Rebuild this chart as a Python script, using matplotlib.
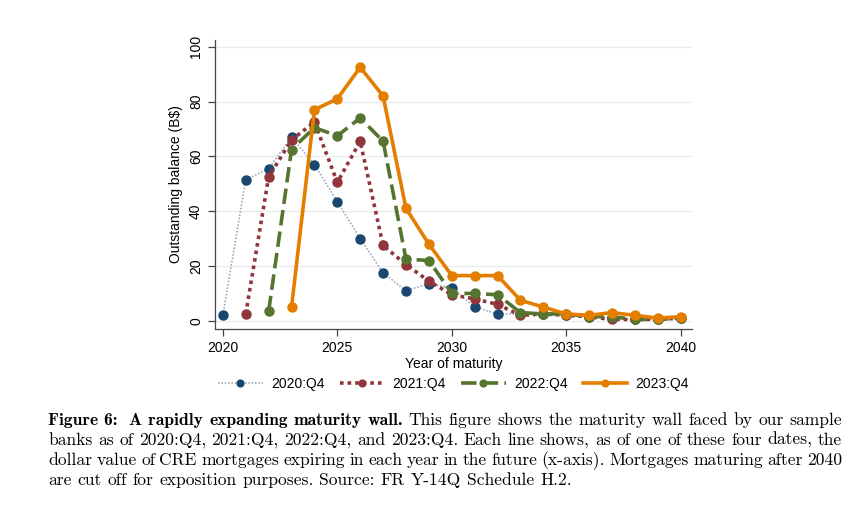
import numpy as np
import matplotlib
matplotlib.use("Agg")
import matplotlib.pyplot as plt
from matplotlib.font_manager import FontProperties

# ---------- data ---------- #
years = list(range(2020, 2041))

q4_2020 = [2, 51.5, 55.5, 67, 57, 43.5, 30, 17.5, 11, 13.5, 12, 5, 2.5,
           2.5, 2.5, 2, 1.5, 1, 0.5, 0.5, 1]
q4_2021 = [2.5, 52.5, 66, 72.5, 50.5, 65.5, 27.5, 20.5, 14.5, 9.5, 8, 6,
           2, 2.5, 2, 1.5, 0.5, 0.5, 0.5, 1]
q4_2022 = [3.5, 62.5, 70.5, 67.5, 74, 65.5, 22.5, 22, 10, 10, 9.5, 3,
           2.5, 2.5, 1.5, 1.5, 0.5, 0.5, 1]
q4_2023 = [5, 77, 81, 92.5, 82, 41, 28, 16.5, 16.5, 16.5, 7.5, 5, 2.5,
           2, 3, 2, 1, 1.5]

labels = ["2020:Q4", "2021:Q4", "2022:Q4", "2023:Q4"]
series = [q4_2020, q4_2021, q4_2022, q4_2023]

colors = ["#1a476f", "#90353b", "#55752f", "#e37e00"]

plt.rcParams['font.family'] = ['Liberation Sans', 'DejaVu Sans']

fig = plt.figure(figsize=(8.56, 5.05), dpi=100)
ax = fig.add_axes([0.251, 0.349, 0.557, 0.572])

styles = [
    dict(color="#8fa0b3", lw=1.1, ls=(0, (1, 1.2))),
    dict(color=colors[1], lw=2.6, ls=(0, (1, 1.1))),
    dict(color=colors[2], lw=2.6, ls=(0, (4.3, 1.7))),
    dict(color=colors[3], lw=2.6, ls="-"),
]

handles = []
for vals, lab, col, st in zip(series, labels, colors, styles):
    x = years[len(years) - len(vals):]
    h, = ax.plot(x, vals, marker="o", ms=6.5, mfc=col, mec=col,
                 label=lab, dash_capstyle="butt", **st)
    handles.append(h)

ax.set_xlim(2019.65, 2040.48)
ax.set_ylim(-2.9, 102.5)
ax.set_xticks([2020, 2025, 2030, 2035, 2040])
ax.set_yticks([0, 20, 40, 60, 80, 100])
ax.grid(axis="y", color="#eaeaea", lw=0.9)
ax.set_axisbelow(True)
for s in ["top", "right"]:
    ax.spines[s].set_visible(False)
for s in ["left", "bottom"]:
    ax.spines[s].set_color("#444444")
    ax.spines[s].set_linewidth(0.9)
ax.tick_params(axis="both", labelsize=10, color="#444444", length=5, width=0.9)
plt.setp(ax.get_yticklabels(), rotation=90, va="center")
ax.set_xlabel("Year of maturity", fontsize=10, labelpad=2)
ax.set_ylabel("Outstanding balance (B$)", fontsize=10, labelpad=4)

fig.legend(handles=handles, loc="center", bbox_to_anchor=(0.53, 0.24),
           ncol=4, frameon=False, fontsize=10, handlelength=3.2,
           handletextpad=0.6, columnspacing=1.1, markerscale=0.75)

# ---------- caption (justified lines) ---------- #
fs = 12.6
reg = FontProperties(family="cmr10", size=fs)
bold = FontProperties(family="cmb10", size=fs)
fig.canvas.draw()
r = fig.canvas.get_renderer()
W, H = fig.get_size_inches() * fig.dpi


def wid(s, fp):
    return r.get_text_width_height_descent(s, fp, ismath=False)[0]


lines = [
    [("Figure 6:", bold), ("A rapidly", bold), ("expanding", bold), ("maturity", bold),
     ("wall.", bold)] + [(w, reg) for w in
                         "This figure shows the maturity wall faced by our sample".split()],
    [(w, reg) for w in
     "banks as of 2020:Q4, 2021:Q4, 2022:Q4, and 2023:Q4. Each line shows, as of one of these four dates, the".split()],
    [(w, reg) for w in
     "dollar value of CRE mortgages expiring in each year in the future (x-axis). Mortgages maturing after 2040".split()],
    [(w, reg) for w in
     "are cut off for exposition purposes. Source: FR Y-14Q Schedule H.2.".split()],
]
x0, x1 = 48, 842
baselines = [425, 445, 465, 485]
for i, (ln, yb) in enumerate(zip(lines, baselines)):
    widths = [wid(w, fp) for w, fp in ln]
    extra = [0.0] * len(ln)
    if i == 0:
        extra[0] = 6.0  # wider space after "Figure 6:"
    if i < len(lines) - 1:
        gap = (x1 - x0 - sum(widths) - sum(extra)) / (len(ln) - 1)
    else:
        gap = wid(" ", reg) * 1.0
    x = x0
    for (w, fp), ww, ex in zip(ln, widths, extra):
        fig.text(x / W, 1 - yb / H, w, fontproperties=fp, va="baseline", ha="left")
        x += ww + gap + ex

fig.savefig("out.png", dpi=100)
